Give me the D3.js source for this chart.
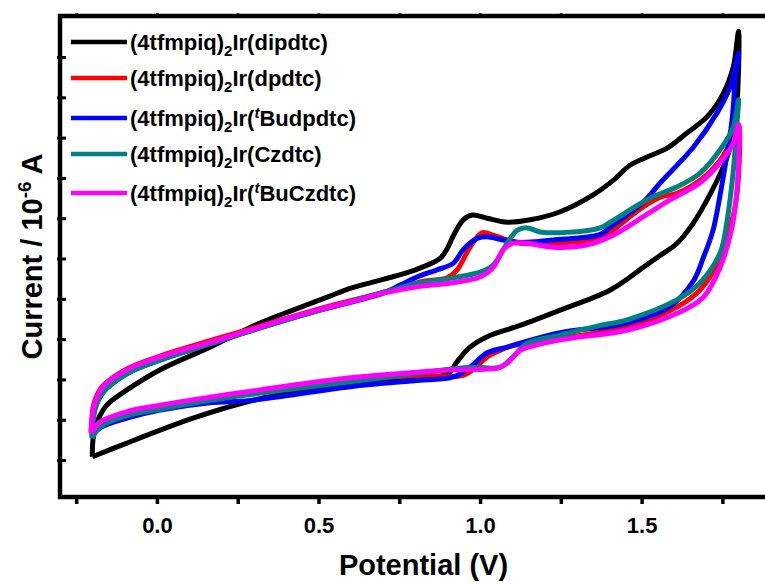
<!DOCTYPE html>
<html>
<head>
<meta charset="utf-8">
<script src="https://cdn.jsdelivr.net/npm/d3@7"></script>
<style>
  body { margin: 0; background: #fff; }
  text { font-family: "Liberation Sans", Arial, sans-serif; font-weight: bold; }
</style>
</head>
<body>
<div id="chart"></div>
<script>
// cyclic voltammograms, [potential V, current 10^-6 A]
var dipdtc = [
  [-0.20,-1.96],[-0.198,-1.75],[-0.189,-1.57],[-0.167,-1.38],[-0.145,-1.28],[-0.093,-1.13],[0.01,-0.88],
  [0.164,-0.60],[0.319,-0.30],[0.421,-0.14],[0.527,0.02],[0.598,0.13],[0.70,0.24],[0.80,0.36],[0.876,0.50],
  [0.898,0.62],[0.917,0.78],[0.948,0.98],[0.976,1.04],[1.022,1.00],[1.084,0.95],[1.155,0.98],[1.248,1.08],
  [1.35,1.29],[1.412,1.47],[1.465,1.66],[1.517,1.76],[1.579,1.87],[1.641,2.06],[1.703,2.26],[1.753,2.55],
  [1.784,2.88],[1.80,3.32],
  [1.793,2.31],[1.774,1.88],[1.753,1.64],[1.703,1.23],[1.66,0.94],[1.61,0.69],[1.558,0.54],[1.505,0.39],
  [1.403,0.11],[1.248,-0.14],[1.124,-0.33],[1.022,-0.47],[0.969,-0.60],[0.929,-0.78],[0.907,-0.91],
  [0.886,-0.95],[0.731,-1.02],[0.527,-1.11],[0.319,-1.24],[0.112,-1.48],[0.01,-1.63],[-0.093,-1.79],[-0.20,-1.96]
];
var dpdtc = [
  [-0.204,-1.65],[-0.201,-1.48],[-0.198,-1.35],[-0.185,-1.19],[-0.167,-1.08],[-0.093,-0.87],[0.01,-0.71],
  [0.164,-0.52],[0.319,-0.34],[0.496,-0.13],[0.70,0.08],[0.815,0.21],[0.898,0.26],[0.929,0.36],[0.969,0.64],
  [1.007,0.82],[1.041,0.79],[1.084,0.73],[1.124,0.69],[1.226,0.69],[1.372,0.75],[1.403,0.83],[1.505,1.14],
  [1.558,1.26],[1.61,1.31],[1.681,1.47],[1.743,1.72],[1.784,2.01],[1.80,2.16],
  [1.799,1.47],[1.784,1.04],[1.765,0.82],[1.734,0.44],[1.681,0.11],[1.61,-0.10],[1.455,-0.35],[1.248,-0.49],
  [1.146,-0.56],[1.102,-0.58],[1.062,-0.64],[1.022,-0.72],[1.0,-0.80],[0.948,-0.95],[0.815,-0.95],
  [0.598,-1.01],[0.319,-1.15],[0.164,-1.23],[0.01,-1.34],[-0.093,-1.42],[-0.176,-1.53],[-0.204,-1.65]
];
var tBudpdtc = [
  [-0.201,-1.71],[-0.198,-1.50],[-0.189,-1.32],[-0.167,-1.16],[-0.093,-0.93],[0.01,-0.76],[0.164,-0.56],
  [0.319,-0.36],[0.496,-0.15],[0.70,0.07],[0.753,0.17],[0.805,0.27],[0.867,0.36],[0.917,0.44],[0.948,0.61],
  [0.991,0.75],[1.022,0.77],[1.072,0.73],[1.124,0.70],[1.226,0.73],[1.372,0.80],[1.403,0.89],[1.505,1.20],
  [1.558,1.44],[1.66,1.88],[1.734,2.31],[1.774,2.63],[1.80,3.05],
  [1.79,2.71],[1.78,2.22],[1.765,1.81],[1.743,1.29],[1.721,0.85],[1.691,0.51],[1.66,0.22],[1.589,-0.09],
  [1.455,-0.30],[1.248,-0.42],[1.124,-0.55],[1.084,-0.60],[1.022,-0.67],[0.969,-0.85],[0.917,-0.97],
  [0.815,-1.01],[0.598,-1.09],[0.288,-1.26],[0.164,-1.29],[0.01,-1.38],[-0.093,-1.48],[-0.176,-1.60],[-0.201,-1.71]
];
var Czdtc = [
  [-0.201,-1.73],[-0.198,-1.53],[-0.189,-1.34],[-0.167,-1.16],[-0.093,-0.93],[0.01,-0.76],[0.164,-0.56],
  [0.319,-0.36],[0.496,-0.15],[0.70,0.08],[0.815,0.20],[0.917,0.26],[1.0,0.33],[1.041,0.42],[1.084,0.69],
  [1.115,0.85],[1.146,0.88],[1.186,0.83],[1.248,0.82],[1.372,0.88],[1.403,0.95],[1.527,1.25],[1.61,1.39],
  [1.681,1.56],[1.743,1.85],[1.784,2.13],[1.80,2.47],
  [1.796,2.22],[1.784,1.60],[1.765,0.98],[1.743,0.57],[1.681,0.20],[1.61,-0.01],[1.455,-0.26],[1.372,-0.33],
  [1.248,-0.45],[1.146,-0.55],[1.102,-0.72],[1.062,-0.85],[0.969,-0.85],[0.815,-0.92],[0.598,-1.03],
  [0.319,-1.17],[0.164,-1.26],[0.01,-1.37],[-0.093,-1.45],[-0.176,-1.59],[-0.201,-1.73]
];
var tBuCzdtc = [
  [-0.204,-1.67],[-0.201,-1.50],[-0.198,-1.38],[-0.185,-1.22],[-0.167,-1.09],[-0.093,-0.88],[0.01,-0.72],
  [0.164,-0.54],[0.319,-0.35],[0.39,-0.26],[0.496,-0.14],[0.598,-0.04],[0.70,0.07],[0.805,0.15],[0.917,0.20],
  [1.0,0.27],[1.041,0.39],[1.072,0.61],[1.102,0.69],[1.146,0.69],[1.226,0.64],[1.332,0.67],[1.412,0.79],
  [1.517,1.05],[1.589,1.23],[1.681,1.44],[1.743,1.69],[1.784,1.93],[1.80,2.16],
  [1.796,1.39],[1.78,0.89],[1.743,0.39],[1.691,0.02],[1.61,-0.18],[1.455,-0.39],[1.279,-0.49],[1.177,-0.57],
  [1.124,-0.64],[1.084,-0.80],[1.053,-0.86],[0.917,-0.88],[0.805,-0.91],[0.598,-0.98],[0.319,-1.13],
  [0.164,-1.22],[0.01,-1.32],[-0.093,-1.40],[-0.176,-1.53],[-0.204,-1.67]
];

var seriesNames = ["dipdtc", "dpdtc", "tBudpdtc", "Czdtc", "tBuCzdtc"];
var seriesData = [dipdtc, dpdtc, tBudpdtc, Czdtc, tBuCzdtc];
var seriesColors = ["#000000", "#ff0000", "#0000ff", "#008080", "#ff00ff"];
var xTicks = [-0.25, 0, 0.25, 0.5, 0.75, 1.0, 1.25, 1.5, 1.75];
var xLabelled = [0, 0.5, 1.0, 1.5];
var yTicks = [-2, -1.5, -1, -0.5, 0, 0.5, 1, 1.5, 2, 2.5, 3];

// set up basic svg
var svgWidth = 765;
var svgHeight = 584;
var margin = { top: 16, left: 60 };
var width = 727;   // right frame edge falls outside the picture
var height = 481;

var svg = d3.select("#chart")
  .append("svg")
  .attr("width", svgWidth)
  .attr("height", svgHeight);

var chartGroup = svg.append("g")
  .attr("transform", `translate(${margin.left}, ${margin.top})`);

var xScale = d3.scaleLinear().domain([-0.3, 1.95]).range([0, width]);
var yScale = d3.scaleLinear().domain([-2.459, 3.509]).range([height, 0]);

// curves
var line = d3.line()
  .x(d => xScale(d[0]))
  .y(d => yScale(d[1]))
  .curve(d3.curveCatmullRom.alpha(0.5));

chartGroup.selectAll(".cv")
  .data(seriesData)
  .enter()
  .append("path")
  .attr("class", "cv")
  .attr("d", line)
  .attr("fill", "none")
  .attr("stroke", (d, i) => seriesColors[i])
  .attr("stroke-width", 5)
  .attr("stroke-linejoin", "round");

// bottom axis
var bottomAxis = d3.axisBottom(xScale)
  .tickValues(xTicks)
  .tickSize(7)
  .tickPadding(13)
  .tickFormat(d => xLabelled.indexOf(d) >= 0 ? d3.format(".1f")(d) : "");

var xAxis = chartGroup.append("g")
  .attr("transform", `translate(0, ${height})`)
  .call(bottomAxis);
xAxis.select(".domain").remove();
xAxis.selectAll("line").attr("stroke-width", 3.5);
xAxis.selectAll("text").attr("font-size", 22).attr("fill", "#000");

// top axis (little marks only)
var topAxis = chartGroup.append("g")
  .call(d3.axisTop(xScale).tickValues(xTicks).tickSize(3).tickFormat(""));
topAxis.select(".domain").remove();
topAxis.selectAll("line").attr("stroke", "#666").attr("stroke-width", 3);

// left ticks, no labels
var leftAxis = chartGroup.append("g")
  .attr("transform", "translate(-3, 0)")
  .call(d3.axisRight(yScale).tickValues(yTicks).tickSize(9).tickFormat(""));
leftAxis.select(".domain").remove();
leftAxis.selectAll("line").attr("stroke-width", 3);

// frame
chartGroup.append("rect")
  .attr("x", 0)
  .attr("y", 0)
  .attr("width", width)
  .attr("height", height)
  .attr("fill", "none")
  .attr("stroke", "#000")
  .attr("stroke-width", 4.5);

// axis titles
svg.append("text")
  .attr("x", margin.left + width / 2)
  .attr("y", 575)
  .attr("text-anchor", "middle")
  .attr("font-size", 29)
  .text("Potential (V)");

var yTitle = svg.append("text")
  .attr("transform", `translate(42, ${margin.top + height / 2}) rotate(-90)`)
  .attr("text-anchor", "middle")
  .attr("font-size", 29);
yTitle.append("tspan").text("Current / 10");
yTitle.append("tspan").attr("font-size", 19).attr("dy", -11).text("-6");
yTitle.append("tspan").attr("dy", 11).text(" A");

// legend
var legendY = [42, 78, 118, 154, 193];
var legend = svg.append("g");
seriesNames.forEach(function (name, i) {
  legend.append("line")
    .attr("x1", 71).attr("x2", 127)
    .attr("y1", legendY[i]).attr("y2", legendY[i])
    .attr("stroke", seriesColors[i])
    .attr("stroke-width", 4.5);

  var t = legend.append("text")
    .attr("x", 130)
    .attr("y", legendY[i] + 8)
    .attr("font-size", 22);
  t.append("tspan").text("(4tfmpiq)");
  t.append("tspan").attr("font-size", 15).attr("dy", 6).text("2");
  t.append("tspan").attr("dy", -6).text("Ir(");
  if (name.indexOf("tBu") === 0) {
    t.append("tspan").attr("font-size", 15).attr("font-style", "italic").attr("dy", -8).text("t");
    t.append("tspan").attr("dy", 8).text(name.slice(1) + ")");
  } else {
    t.append("tspan").text(name + ")");
  }
});
</script>
</body>
</html>
